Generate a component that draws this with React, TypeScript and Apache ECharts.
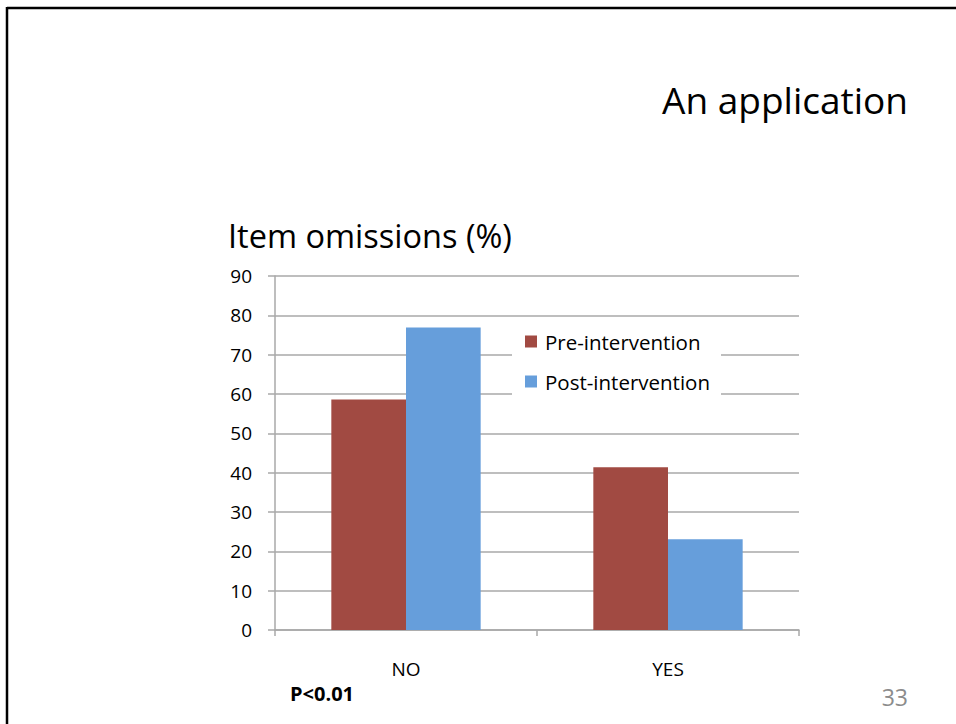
import React, { useEffect, useRef } from "react";
import * as echarts from "echarts";

const categories = ["NO", "YES"];
const preIntervention = [58.6, 41.4];
const postIntervention = [76.9, 23.1];
const seriesNames = ["Pre-intervention", "Post-intervention"];
const yTicks = { min: 0, max: 90, interval: 10 };

const FONT = "'Open Sans', Lato, sans-serif";
const GRID_COLOR = "#a8a8a8";

export default function App() {
  const ref = useRef<HTMLDivElement>(null);
  useEffect(() => {
    if (!ref.current) return;
    const chart = echarts.init(ref.current, undefined, { renderer: "svg" });
    chart.setOption({
      animation: false,
      backgroundColor: "#ffffff",
      textStyle: { fontFamily: FONT },
      grid: { left: 275, top: 276, width: 524, height: 354, containLabel: false },
      xAxis: {
        type: "category",
        data: categories,
        axisLine: { show: true, lineStyle: { color: GRID_COLOR, width: 1.5 } },
        axisTick: { show: true, length: 6, lineStyle: { color: GRID_COLOR, width: 1.5 } },
        axisLabel: { color: "#000", fontSize: 19, margin: 29, fontFamily: FONT },
      },
      yAxis: {
        type: "value",
        min: yTicks.min,
        max: yTicks.max,
        interval: yTicks.interval,
        axisLine: { show: true, lineStyle: { color: GRID_COLOR, width: 1.5 } },
        axisTick: { show: true, length: 7, lineStyle: { color: GRID_COLOR, width: 1.5 } },
        splitLine: { show: true, lineStyle: { color: GRID_COLOR, width: 1.5 } },
        axisLabel: { color: "#000", fontSize: 19, margin: 23, fontFamily: FONT, padding: [3, 0, 0, 0] },
      },
      legend: {
        orient: "vertical",
        left: 521,
        top: 329,
        itemWidth: 12,
        itemHeight: 12,
        itemGap: 19,
        icon: "rect",
        padding: [2, 4],
        z: 20,
        textStyle: { fontSize: 20.5, lineHeight: 20, color: "#000", fontFamily: FONT, padding: [0, 0, 0, 3] },
        data: seriesNames,
      },
      series: [
        {
          name: seriesNames[0],
          type: "bar",
          data: preIntervention,
          barGap: "0%",
          barCategoryGap: "43%",
          itemStyle: { color: "#A14A42" },
        },
        {
          name: seriesNames[1],
          type: "bar",
          data: postIntervention,
          barGap: "0%",
          barCategoryGap: "43%",
          itemStyle: { color: "#669EDB" },
        },
      ],
      graphic: [
        { type: "rect", z: 10, shape: { x: 512, y: 320, width: 209, height: 80 }, style: { fill: "#fff" } },
        { type: "line", z: 30, shape: { x1: 7, y1: 8, x2: 956, y2: 8 }, style: { stroke: "#000", lineWidth: 2.5 } },
        { type: "line", z: 30, shape: { x1: 7, y1: 7, x2: 7, y2: 724 }, style: { stroke: "#000", lineWidth: 2.5 } },
        {
          type: "text", z: 30, x: 908, y: 99,
          style: { text: "An application", fill: "#000", fontSize: 37, fontFamily: FONT, textAlign: "right", textVerticalAlign: "middle" },
        },
        {
          type: "text", z: 30, x: 228, y: 235,
          style: { text: "Item omissions (%)", fill: "#000", fontSize: 32.5, fontFamily: FONT, textAlign: "left", textVerticalAlign: "middle" },
        },
        {
          type: "text", z: 30, x: 290, y: 693,
          style: { text: "P<0.01", fill: "#000", fontSize: 20, fontWeight: "bold", fontFamily: FONT, textAlign: "left", textVerticalAlign: "middle" },
        },
        {
          type: "text", z: 30, x: 908, y: 697,
          style: { text: "33", fill: "#8c8c8c", fontSize: 23, fontFamily: FONT, textAlign: "right", textVerticalAlign: "middle" },
        },
      ],
    });
    return () => chart.dispose();
  }, []);
  return (
    <div
      ref={ref}
      style={{ position: "absolute", left: 0, top: 0, width: 956, height: 724 }}
    />
  );
}
